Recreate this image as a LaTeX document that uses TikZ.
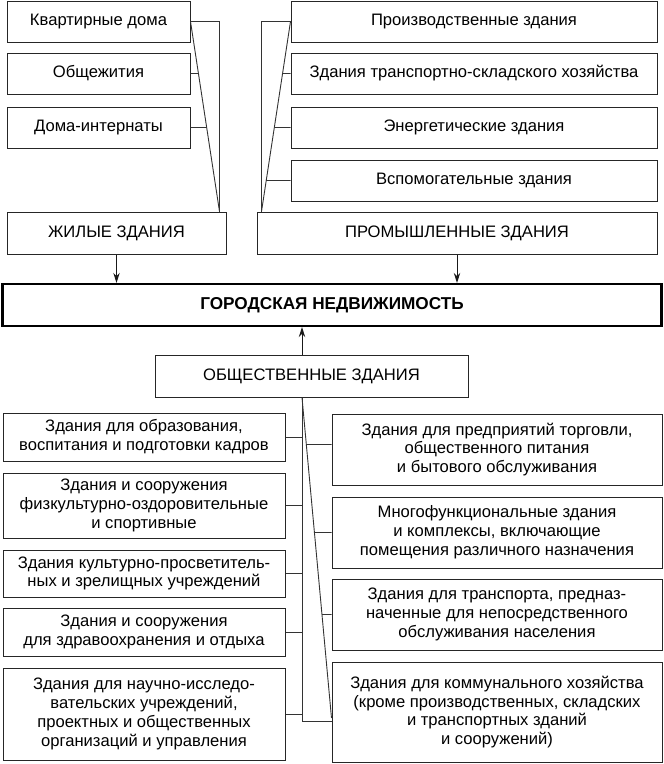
\documentclass[tikz,border=0pt]{standalone}
\usepackage{fontspec}
\setmainfont{Liberation Sans}
\usetikzlibrary{arrows.meta,calc}
\begin{document}
\begin{tikzpicture}[x=1pt,y=-1pt,
  box/.style={draw=black!85, line width=1pt, inner sep=0pt, align=center,
    font=\fontsize{16.6}{18.8}\selectfont, text=black},
  conn/.style={draw=black!80, line width=0.9pt},
  arr/.style={draw=black!90, line width=1pt, -{Stealth[length=10pt,width=6.5pt]}}]
\useasboundingbox (0,0) rectangle (664,764);
% residential
\node[box, minimum width=183pt, minimum height=41pt] (kv) at (98.5,21.5) {Квартирные дома};
\node[box, minimum width=183pt, minimum height=41pt] (ob) at (98.5,73.5) {Общежития};
\node[box, minimum width=183pt, minimum height=41pt] (di) at (98.5,127.5) {Дома-интернаты};
\node[box, minimum width=219pt, minimum height=42pt] (zh) at (116.5,233) {ЖИЛЫЕ ЗДАНИЯ};
% industrial
\node[box, minimum width=366pt, minimum height=41pt] (pr) at (474,21.5) {Производственные здания};
\node[box, minimum width=366pt, minimum height=41pt] (tr) at (474,73.5) {Здания транспортно-складского хозяйства};
\node[box, minimum width=366pt, minimum height=41pt] (en) at (474,127.5) {Энергетические здания};
\node[box, minimum width=366pt, minimum height=41pt] (vs) at (474,180.5) {Вспомогательные здания};
\node[box, minimum width=400pt, minimum height=42pt] (pm) at (457,233) {ПРОМЫШЛЕННЫЕ ЗДАНИЯ};
% main
\node[box, line width=2.3pt, draw=black, minimum width=659pt, minimum height=42pt, font=\bfseries\fontsize{17.2}{19}\selectfont] (gn) at (332,305) {ГОРОДСКАЯ НЕДВИЖИМОСТЬ};
\node[box, minimum width=313pt, minimum height=42pt] (os) at (311.5,376) {ОБЩЕСТВЕННЫЕ ЗДАНИЯ};
% public left
\node[box, minimum width=282pt, minimum height=48pt] (L1) at (144,437) {Здания для образования,\\воспитания и подготовки кадров};
\node[box, minimum width=282pt, minimum height=65pt] (L2) at (144,505.5) {Здания и сооружения\\физкультурно-оздоровительные\\и спортивные};
\node[box, minimum width=282pt, minimum height=47pt] (L3) at (144,573.5) {Здания культурно-просветитель-\\ных и зрелищных учреждений};
\node[box, minimum width=282pt, minimum height=48pt] (L4) at (144,632) {Здания и сооружения\\для здравоохранения и отдыха};
\node[box, minimum width=282pt, minimum height=92pt] (L5) at (144,714) {Здания для научно-исследо-\\вательских учреждений,\\проектных и общественных\\организаций и управления};
% public right
\node[box, minimum width=330pt, minimum height=71pt] (R1) at (497,449.5) {Здания для предприятий торговли,\\общественного питания\\и бытового обслуживания};
\node[box, minimum width=330pt, minimum height=71pt] (R2) at (497,532.5) {Многофункциональные здания\\и комплексы, включающие\\помещения различного назначения};
\node[box, minimum width=330pt, minimum height=71pt] (R3) at (497,614.5) {Здания для транспорта, предназ-\\наченные для непосредственного\\обслуживания населения};
\node[box, minimum width=330pt, minimum height=100pt] (R4) at (497,712) {Здания для коммунального хозяйства\\(кроме производственных, складских\\и транспортных зданий\\и сооружений)};
% residential connectors
\coordinate (zhT) at ([xshift=-7pt]zh.north east);
\draw[conn] (kv.east) -| (zhT);
\draw[conn] (kv.east) -- (zhT);
\draw[conn] (ob.east) -- (intersection of kv.east--zhT and ob.east--ob.west);
\draw[conn] (di.east) -- (intersection of kv.east--zhT and di.east--di.west);
% industrial connectors
\coordinate (pmT) at ([xshift=5pt]pm.north west);
\draw[conn] (pr.west) -| (pmT);
\draw[conn] (pr.west) -- (pmT);
\draw[conn] (tr.west) -- (intersection of pr.west--pmT and tr.west--tr.east);
\draw[conn] (en.west) -- (intersection of pr.west--pmT and en.west--en.east);
\draw[conn] (vs.west) -- (intersection of pr.west--pmT and vs.west--vs.east);
% arrows
\draw[arr] (zh.south) -- (zh.south |- gn.north);
\draw[arr] (pm.south) -- (pm.south |- gn.north);
\coordinate (ost) at ([xshift=-9.5pt]os.north);
\coordinate (osb) at ([xshift=-9.5pt]os.south);
\draw[arr] (ost) -- (ost |- gn.south);
% public connectors
\coordinate (busend) at ([yshift=-9pt]R4.west -| osb);
\coordinate (dg) at ([yshift=-6pt]R4.west);
\draw[conn] (osb) -- (busend) -- (busend -| R4.west);
\draw[conn] (osb) -- (dg);
\foreach \n in {L1,L2,L3,L4,L5} \draw[conn] (\n.east) -- (\n.east -| osb);
\draw[conn] ([yshift=5pt]R1.west) -- (intersection of osb--dg and {[yshift=5pt]R1.west}--{[yshift=5pt]R1.east});
\foreach \n in {R2,R3} \draw[conn] (\n.west) -- (intersection of osb--dg and \n.west--\n.east);
\end{tikzpicture}
\end{document}
